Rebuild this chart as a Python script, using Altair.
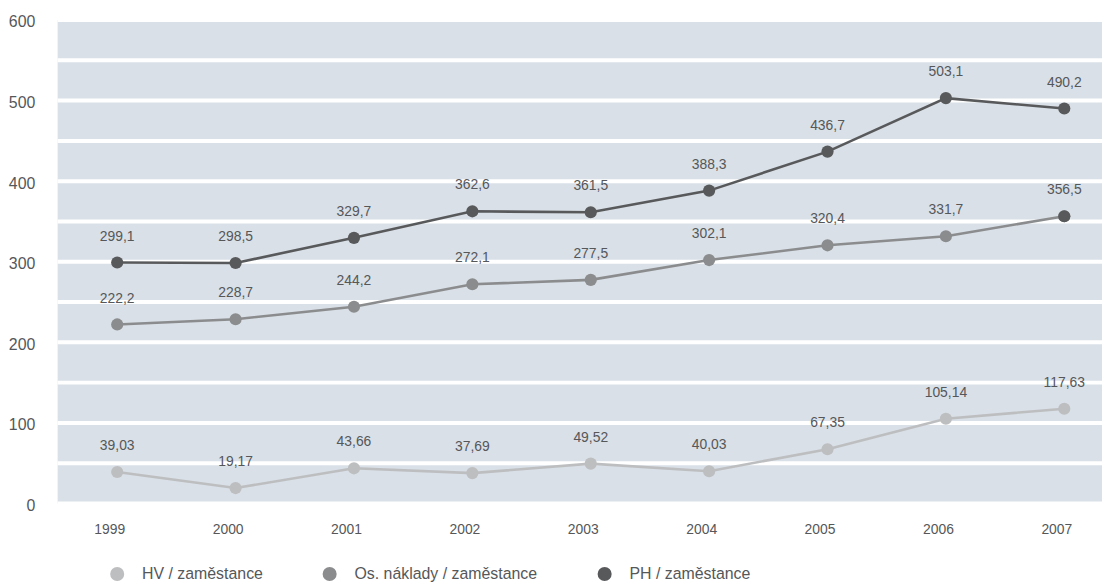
import altair as alt
import pandas as pd

years = ["1999", "2000", "2001", "2002", "2003", "2004", "2005", "2006", "2007"]
hv = [39.03, 19.17, 43.66, 37.69, 49.52, 40.03, 67.35, 105.14, 117.63]
os_naklady = [222.2, 228.7, 244.2, 272.1, 277.5, 302.1, 320.4, 331.7, 356.5]
ph = [299.1, 298.5, 329.7, 362.6, 361.5, 388.3, 436.7, 503.1, 490.2]
series = ["HV / zaměstance", "Os. náklady / zaměstance", "PH / zaměstance"]
decimals = [2, 1, 1]
colors = ["#bdbec0", "#8b8c8e", "#58595b"]
y_ticks = list(range(0, 601, 50))

FONT = "Liberation Sans"
TEXT = "#555759"
W, H = 1052, 487

rows = []
for name, vals, dec in zip(series, [hv, os_naklady, ph], decimals):
    for yr, v in zip(years, vals):
        rows.append({"year": yr, "value": v, "series": name,
                     "label": f"{v:.{dec}f}".replace(".", ",")})
df = pd.DataFrame(rows)
grid_df = pd.DataFrame({"value": y_ticks})

color_scale = alt.Scale(domain=series, range=colors)
x = alt.X("year:O", scale=alt.Scale(type="point", range=[60, 1014], padding=0),
          axis=alt.Axis(title=None, labelAngle=0, domain=False, ticks=False, grid=False,
                        labelPadding=19, labelFontSize=14, labelColor=TEXT, labelFont=FONT,
                        labelOffset=-8))
y_scale = alt.Scale(domain=[0, 600], nice=False, zero=True)
y_axis = alt.Axis(title=None, values=y_ticks,
                  labelExpr="datum.value % 100 == 0 ? datum.label : ''",
                  grid=False, domain=False, ticks=False,
                  labelPadding=23, labelFontSize=16, labelColor=TEXT, labelFont=FONT,
                  labelOffset=2)
y = alt.Y("value:Q", scale=y_scale, axis=y_axis)

grid = alt.Chart(grid_df).mark_rule(color="white", strokeWidth=4).encode(
    y=y, x=alt.value(0), x2=alt.value(W))

base = alt.Chart(df)
lines = base.mark_line(strokeWidth=2.6).encode(
    x=x, y=y, color=alt.Color("series:N", scale=color_scale, legend=None),
    detail="series:N")
points = base.mark_circle(size=150, opacity=1).encode(
    x=x, y=y,
    color=alt.Color("series:N", scale=color_scale,
                    legend=alt.Legend(title=None, orient="none", legendX=52, legendY=550,
                                      direction="horizontal", symbolType="circle",
                                      symbolSize=200, symbolStrokeWidth=0, symbolOpacity=1,
                                      labelFontSize=16, labelFont=FONT, labelColor=TEXT,
                                      labelLimit=400,
                                      labelOffset=17, columnPadding=59, padding=0)))
quirk = base.mark_circle(size=150, opacity=1, color="#58595b").encode(x=x, y=y).transform_filter(
    "datum.series == 'Os. náklady / zaměstance' && datum.year == '2007'")
labels = base.mark_text(dy=-26, fontSize=14, font=FONT, color=TEXT).encode(
    x=x, y=y, text="label:N")

chart = alt.layer(grid, lines, points, quirk, labels).resolve_legend(
    color="independent"
).properties(
    width=W, height=H,
    background="white",
    autosize=alt.AutoSizeParams(type="none"),
    padding={"left": 50, "top": 10, "right": 0, "bottom": 82},
).configure_view(fill="#d9e0e7", strokeWidth=0)

chart.save("out.html", embed_options={"renderer": "svg", "actions": False})
